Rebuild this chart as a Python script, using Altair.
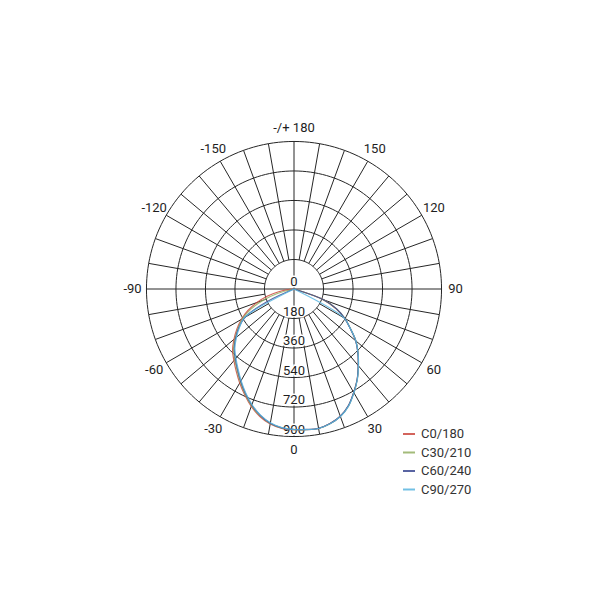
import altair as alt
import pandas as pd

# ---- data ----
angles = [-90, -85, -80, -75, -70, -65, -60, -55, -50, -45, -40, -35, -30, -25, -20, -15, -10, -5,
          0, 5, 10, 15, 20, 25, 30, 35, 40, 45, 50, 55, 60, 65, 70, 75, 80, 85, 90]
c0_180 = [0, 25, 95, 170, 240, 310, 370, 425, 478, 530, 570, 614, 662, 712, 762, 805, 836, 853,
          858, 862, 864, 850, 826, 786, 728, 672, 610, 552, 492, 418, 356, 280, 190, 0, 0, 0, 0]
c30_210 = [0, 0, 0, 105, 200, 290, 362, 416, 470, 522, 562, 606, 655, 706, 757, 800, 833, 851,
           858, 861, 864, 851, 827, 787, 730, 673, 611, 553, 493, 420, 357, 284, 190, 0, 0, 0, 0]
c60_240 = [0, 0, 0, 0, 0, 180, 345, 410, 464, 515, 556, 600, 650, 702, 753, 797, 831, 850,
           857, 860, 863, 850, 826, 785, 729, 672, 609, 551, 491, 418, 356, 286, 192, 0, 0, 0, 0]
c90_270 = [0, 0, 0, 0, 0, 0, 350, 405, 458, 510, 551, 595, 645, 698, 750, 795, 829, 849,
           857, 861, 864, 851, 828, 788, 731, 674, 612, 553, 493, 419, 352, 0, 0, 0, 0, 0, 0]

series_names = ["C0/180", "C30/210", "C60/240", "C90/270"]
series_colors = ["#cc4a40", "#93b063", "#3d4a92", "#5ab6e0"]

ring_values = [180, 360, 540, 720, 900]
radial_labels = ["0", "180", "360", "540", "720", "900"]
radial_positions = [0, 180, 360, 540, 720, 900]
angle_label_angles = [0, 30, 60, 90, 120, 150, 180, -150, -120, -90, -60, -30]
angle_label_texts = ["0", "30", "60", "90", "120", "150", "-/+ 180", "-150", "-120", "-90", "-60", "-30"]

FONT = "Roboto"
GRID = "#262626"
D = 1220
W = 400

rows = []
for name, vals in zip(series_names, [c0_180, c30_210, c60_240, c90_270]):
    for a, v in zip(angles, vals):
        rows.append({"series": name, "angle": a, "value": v})
curve_df = pd.DataFrame(rows)

xs = alt.Scale(domain=[-D, D], nice=False, zero=False)
ys = alt.Scale(domain=[-D, D], nice=False, zero=False)

def X(f):
    return alt.X(f, type="quantitative", scale=xs, axis=None)

def Y(f):
    return alt.Y(f, type="quantitative", scale=ys, axis=None)

rings = (
    alt.Chart(pd.DataFrame({"r": ring_values}))
    .transform_calculate(a="sequence(0, 362, 2)")
    .transform_flatten(["a"])
    .transform_calculate(
        x="datum.r*sin(datum.a*PI/180)",
        y="-datum.r*cos(datum.a*PI/180)",
    )
    .mark_line(color=GRID, strokeWidth=1)
    .encode(x=X("x"), y=Y("y"), detail="r:N", order="a:Q")
)

spokes = (
    alt.Chart(alt.sequence(0, 360, 10, as_="a"))
    .transform_calculate(
        r0="datum.a % 90 == 0 ? 0 : 180",
        x="datum.r0*sin(datum.a*PI/180)",
        y="-datum.r0*cos(datum.a*PI/180)",
        x2="900*sin(datum.a*PI/180)",
        y2="-900*cos(datum.a*PI/180)",
    )
    .mark_rule(color=GRID, strokeWidth=1)
    .encode(x=X("x"), y=Y("y"), x2="x2:Q", y2="y2:Q")
)

rad_df = pd.DataFrame({"t": radial_labels, "r": radial_positions})
rad_base = alt.Chart(rad_df).transform_calculate(x="0", y="-datum.r")
rad_halo = rad_base.mark_text(
    font=FONT, fontSize=13, baseline="bottom", dy=0, stroke="white", strokeWidth=3, color="white"
).encode(x=X("x"), y=Y("y"), text="t:N")
rad_text = rad_base.mark_text(
    font=FONT, fontSize=13, baseline="bottom", dy=0, color="#1e1e1e"
).encode(x=X("x"), y=Y("y"), text="t:N")

ang_df = pd.DataFrame({"a": angle_label_angles, "t": angle_label_texts})
ang_text = (
    alt.Chart(ang_df)
    .transform_calculate(
        x="985*sin(datum.a*PI/180)",
        y="-985*cos(datum.a*PI/180)",
    )
    .mark_text(font=FONT, fontSize=13, baseline="middle", align="center", color="#1e1e1e")
    .encode(x=X("x"), y=Y("y"), text="t:N")
)

curves = (
    alt.Chart(curve_df)
    .transform_calculate(
        x="datum.value*sin(datum.angle*PI/180)",
        y="-datum.value*cos(datum.angle*PI/180)",
    )
    .mark_line(strokeWidth=1.2, opacity=0.85, interpolate="catmull-rom")
    .encode(
        x=X("x"),
        y=Y("y"),
        order="angle:Q",
        color=alt.Color(
            "series:N",
            scale=alt.Scale(domain=series_names, range=series_colors),
            legend=alt.Legend(
                title=None,
                orient="none",
                legendX=308,
                legendY=338,
                symbolType="stroke",
                symbolSize=144,
                symbolStrokeWidth=2,
                labelFont=FONT,
                labelFontSize=13,
                labelColor="#333333",
                labelOffset=5,
                rowPadding=4.5,
                padding=0,
            ),
        ),
    )
)

chart = (
    alt.layer(rings, spokes, rad_halo, rad_text, ang_text, curves)
    .properties(width=W, height=W, padding={"left": 86, "top": 81, "right": 0, "bottom": 0})
    .configure_view(stroke=None)
)

chart.save("out.html", embed_options={"renderer": "svg", "actions": False})
